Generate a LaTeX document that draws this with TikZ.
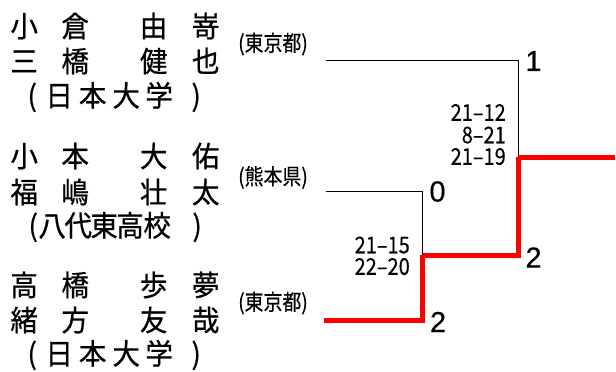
\documentclass[tikz,border=0pt]{standalone}
\usepackage{fontspec}
\setmainfont{Noto Sans CJK JP}
\newfontfamily\jp[FakeBold=0.6,FakeStretch=0.95]{Noto Sans CJK JP}
\newfontfamily\jpc[FakeStretch=0.86,FakeBold=0.4]{Noto Sans CJK JP}
\newfontfamily\jps[FakeStretch=0.87,FakeBold=0.3]{Noto Sans CJK JP}
\newfontfamily\lat[FakeBold=0.4]{Liberation Sans}
\newcommand\ch[2]{\rlap{\hspace*{#1}\makebox[0pt]{#2}}}
\newcommand\fourname[4]{\ch{24pt}{#1}\ch{75pt}{#2}\ch{153.5pt}{#3}\ch{205.5pt}{#4}\hspace*{220pt}}
\newcommand\nichidai{\ch{32pt}{(}\ch{59pt}{日}\ch{92.5pt}{本}\ch{126pt}{大}\ch{159pt}{学}\ch{196pt}{)}\hspace*{220pt}}
\tikzset{
  namerow/.style={anchor=west, inner sep=0pt, font=\jp\fontsize{29}{29}\selectfont},
  pref/.style={inner sep=0pt, font=\jpc\fontsize{22}{22}\selectfont},
  score/.style={inner sep=0pt, anchor=east, text height=16.5pt, text depth=0pt, font=\jps\fontsize{23}{23}\selectfont},
  result/.style={inner sep=0pt, font=\lat\fontsize{29}{29}\selectfont},
  loser/.style={draw=black, line width=0.8pt},
  winner/.style={draw=red, line width=5pt}
}
\begin{document}
\begin{tikzpicture}[x=1pt, y=-1pt]
\useasboundingbox (0,0) rectangle (616,372);
% team 1
\node[namerow] (n1a) at (0,26) {\fourname{小}{倉}{由}{嵜}};
\node[namerow] (n1b) at (0,61) {\fourname{三}{橋}{健}{也}};
\node[namerow] (n1c) at (0,97) {\nichidai};
\node[pref] (p1) at (273,44) {(東京都)};
% team 2
\node[namerow] (n2a) at (0,156) {\fourname{小}{本}{大}{佑}};
\node[namerow] (n2b) at (0,192) {\fourname{福}{嶋}{壮}{太}};
\node[namerow] (n2c) at (0,227) {\ch{33pt}{(}\ch{52pt}{八}\ch{78pt}{代}\ch{104pt}{東}\ch{130pt}{高}\ch{157pt}{校}\ch{197pt}{)}\hspace*{220pt}};
\node[pref] (p2) at (273,177.5) {(熊本県)};
% team 3
\node[namerow] (n3a) at (0,285) {\fourname{高}{橋}{歩}{夢}};
\node[namerow] (n3b) at (0,320) {\fourname{緒}{方}{友}{哉}};
\node[namerow] (n3c) at (0,355) {\nichidai};
\node[pref] (p3) at (273,303) {(東京都)};
% bracket
\coordinate (e1) at (326,60);
\coordinate (e2) at (326,191);
\coordinate (e3) at (324,320);
\coordinate (m1) at (422.5,255);
\coordinate (f) at (518,157);
\coordinate (w) at (615,157);
\draw[loser] (e1) -| (f);
\draw[loser] (e2) -| (m1);
\draw[winner] (e3) -| (m1);
\draw[winner] (m1) -| (f);
\draw[winner] (f) -- (w);
% scores
\node[score] (s1a) at (506,112.5) {21–12};
\node[score] (s1b) at (506,135) {8–21};
\node[score] (s1c) at (506,156.5) {21–19};
\node[score] (s2a) at (410,245) {21–15};
\node[score] (s2b) at (410,266.5) {22–20};
% results
\node[result] (r1) at (533.5,61) {1};
\node[result] (r2) at (437.5,191.5) {0};
\node[result] (r3) at (533.5,257.5) {2};
\node[result] (r4) at (438,322) {2};
\end{tikzpicture}
\end{document}
